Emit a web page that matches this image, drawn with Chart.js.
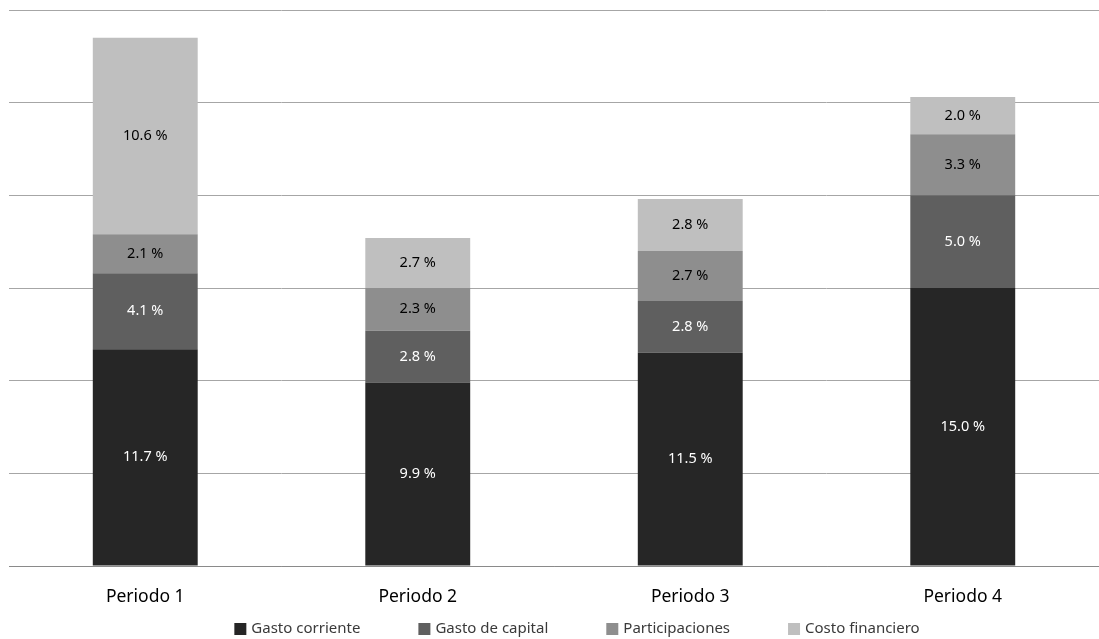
<!DOCTYPE html>
<html>
<head>
<meta charset="utf-8">
<script src="https://cdn.jsdelivr.net/npm/chart.js@4"></script>
<style>
  html, body { margin: 0; padding: 0; background: #fff; }
  #wrap { width: 1099px; height: 639px; }
</style>
</head>
<body>
<div id="wrap"><canvas id="gastoChart"></canvas></div>
<script>
// datos
const periodos = ['Periodo 1', 'Periodo 2', 'Periodo 3', 'Periodo 4'];
const gastoCorriente = [11.7, 9.9, 11.5, 15.0];
const gastoCapital = [4.1, 2.8, 2.8, 5.0];
const participaciones = [2.1, 2.3, 2.7, 3.3];
const costoFinanciero = [10.6, 2.7, 2.8, 2.0];

const FONT = '"Noto Sans", "Open Sans", sans-serif';

// etiquetas dentro de cada segmento
const barLabels = {
    id: 'barLabels',
    afterDatasetsDraw(chart) {
        const ctx = chart.ctx;
        ctx.save();
        ctx.font = '14.5px ' + FONT;
        ctx.textAlign = 'center';
        ctx.textBaseline = 'middle';
        chart.data.datasets.forEach((ds, i) => {
            const meta = chart.getDatasetMeta(i);
            meta.data.forEach((bar, j) => {
                const v = ds.data[j];
                ctx.fillStyle = ds.labelColor;
                ctx.fillText(v.toFixed(1) + ' %', bar.x, (bar.y + bar.base) / 2);
            });
        });
        ctx.restore();
    }
};

// leyenda propia, pegada al borde de abajo
const bottomLegend = {
    id: 'bottomLegend',
    afterDraw(chart) {
        const ctx = chart.ctx;
        const box = 12, textGap = 5, itemGap = 58;
        ctx.save();
        ctx.font = '15px ' + FONT;
        ctx.textBaseline = 'middle';
        const items = chart.data.datasets.map(ds => ({
            text: ds.label,
            color: ds.backgroundColor,
            w: box + textGap + ctx.measureText(ds.label).width
        }));
        const total = items.reduce((s, it) => s + it.w, 0) + itemGap * (items.length - 1);
        let x = 577 - total / 2;
        const y = chart.height - 10;
        items.forEach(it => {
            ctx.fillStyle = it.color;
            ctx.fillRect(x, y - box / 2, box, box);
            ctx.fillStyle = '#3a3a3a';
            ctx.fillText(it.text, x + box + textGap, y);
            x += it.w + itemGap;
        });
        ctx.restore();
    }
};

const ctx = document.getElementById('gastoChart').getContext('2d');
new Chart(ctx, {
    type: 'bar',
    data: {
        labels: periodos,
        datasets: [
            { label: 'Gasto corriente', data: gastoCorriente, backgroundColor: '#262626', labelColor: '#ffffff' },
            { label: 'Gasto de capital', data: gastoCapital, backgroundColor: '#5f5f5f', labelColor: '#ffffff' },
            { label: 'Participaciones', data: participaciones, backgroundColor: '#8e8e8e', labelColor: '#000000' },
            { label: 'Costo financiero', data: costoFinanciero, backgroundColor: '#bfbfbf', labelColor: '#000000' }
        ]
    },
    options: {
        responsive: true,
        maintainAspectRatio: false,
        animation: false,
        categoryPercentage: 1,
        barPercentage: 0.385,
        layout: { padding: { left: 9, top: 10, right: 0, bottom: 18 } },
        plugins: {
            legend: { display: false },
            tooltip: { enabled: false }
        },
        scales: {
            x: {
                stacked: true,
                grid: { display: false },
                border: { display: true, color: '#8a8a8a', width: 1 },
                ticks: { color: '#000', font: { family: FONT, size: 17.5 }, padding: 13 }
            },
            y: {
                stacked: true,
                min: 0,
                max: 30,
                ticks: { display: false, stepSize: 5 },
                grid: { color: '#a6a6a6', drawTicks: false },
                border: { display: false }
            }
        }
    },
    plugins: [barLabels, bottomLegend]
});
</script>
</body>
</html>
